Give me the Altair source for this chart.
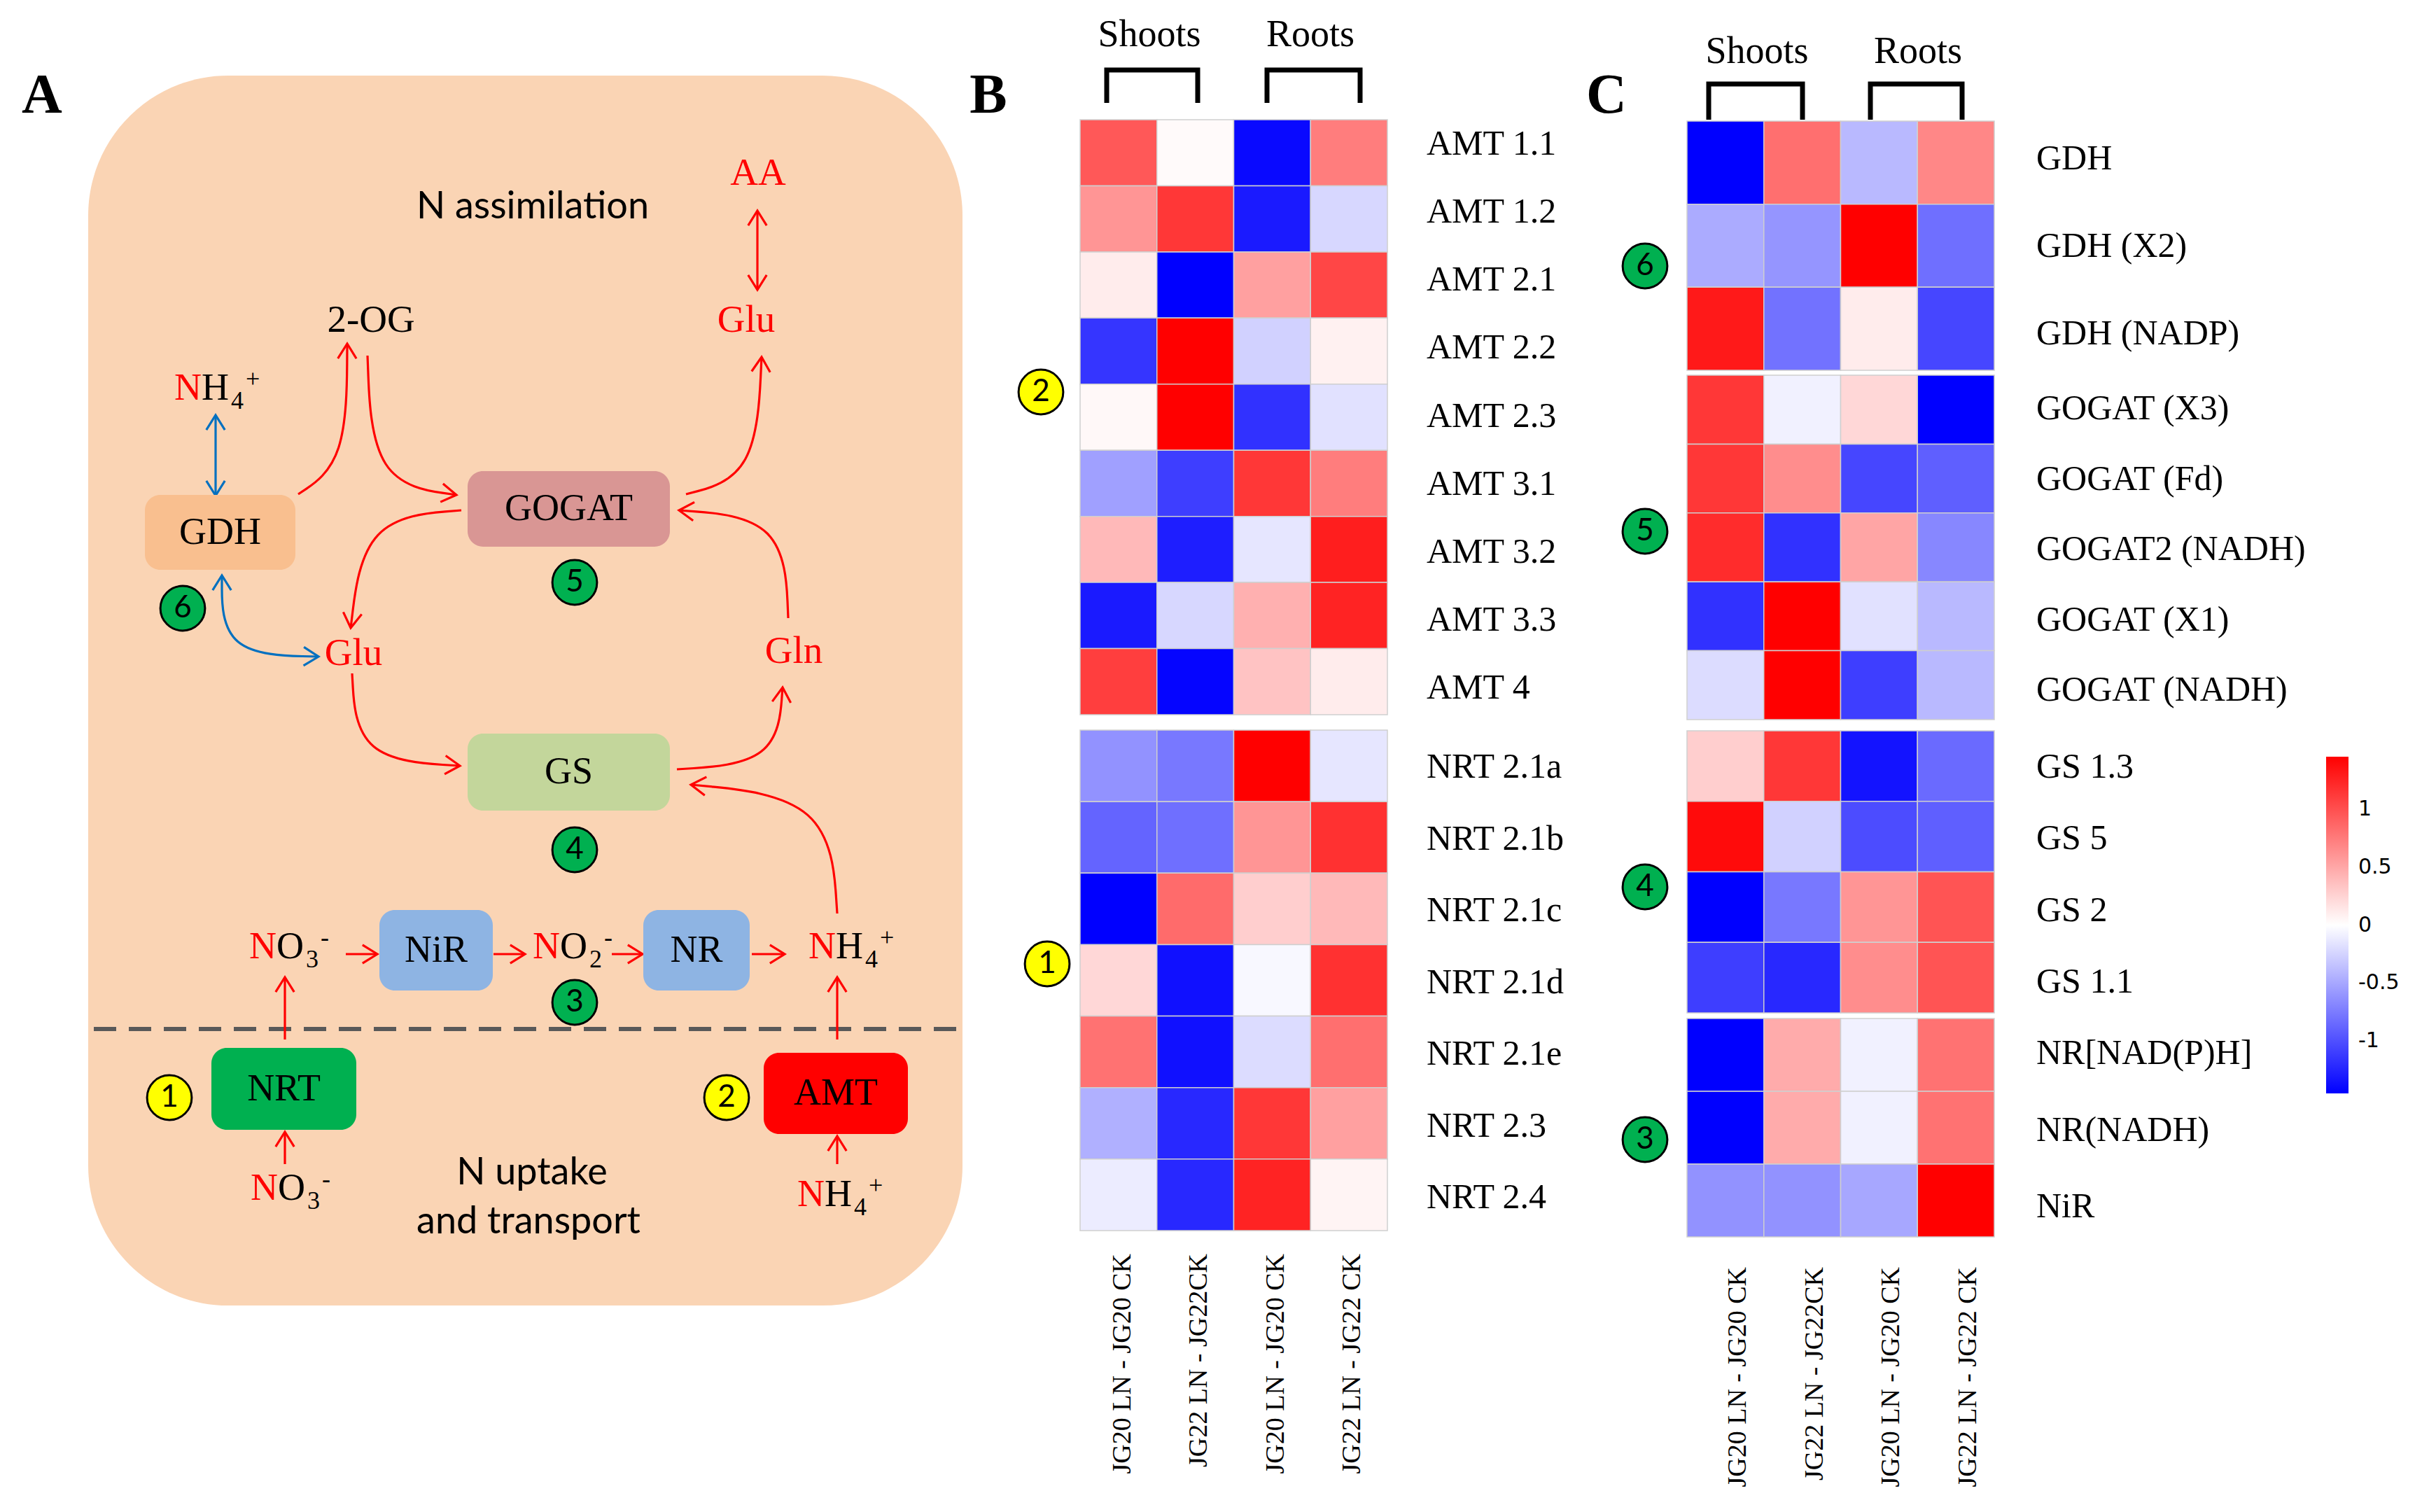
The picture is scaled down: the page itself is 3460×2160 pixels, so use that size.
import math
import altair as alt
import pandas as pd

W, H, M = 3460, 2160, 8
SERIF = "Liberation Serif"
SANS = "Lato"
LEGEND_FONT = "DejaVu Sans"

# ---------------- heatmap data (B and C) ----------------
col_ids = ["Shoots JG20", "Shoots JG22", "Roots JG20", "Roots JG22"]
col_labels = ["JG20 LN - JG20 CK", "JG22 LN - JG22CK", "JG20 LN - JG20 CK", "JG22 LN - JG22 CK"]

amt_genes = ["AMT 1.1", "AMT 1.2", "AMT 2.1", "AMT 2.2", "AMT 2.3", "AMT 3.1", "AMT 3.2", "AMT 3.3", "AMT 4"]
amt_values = [
    [0.95, 0.03, -1.40, 0.74],
    [0.60, 1.14, -1.30, -0.23],
    [0.11, -1.45, 0.54, 1.05],
    [-1.15, 1.45, -0.26, 0.08],
    [0.04, 1.45, -1.17, -0.17],
    [-0.54, -1.10, 1.14, 0.74],
    [0.40, -1.28, -0.14, 1.28],
    [-1.30, -0.23, 0.45, 1.25],
    [1.10, -1.42, 0.34, 0.11],
]
nrt_genes = ["NRT 2.1a", "NRT 2.1b", "NRT 2.1c", "NRT 2.1d", "NRT 2.1e", "NRT 2.3", "NRT 2.4"]
nrt_values = [
    [-0.62, -0.77, 1.45, -0.14],
    [-0.88, -0.82, 0.60, 1.17],
    [-1.45, 0.84, 0.28, 0.40],
    [0.23, -1.36, -0.04, 1.17],
    [0.80, -1.36, -0.20, 0.82],
    [-0.45, -1.22, 1.14, 0.54],
    [-0.11, -1.22, 1.25, 0.06],
]
gdh_genes = ["GDH", "GDH (X2)", "GDH (NADP)"]
gdh_values = [
    [-1.45, 0.82, -0.40, 0.68],
    [-0.48, -0.60, 1.45, -0.82],
    [1.31, -0.80, 0.11, -1.05],
]
gogat_genes = ["GOGAT (X3)", "GOGAT (Fd)", "GOGAT2 (NADH)", "GOGAT (X1)", "GOGAT (NADH)"]
gogat_values = [
    [1.14, -0.08, 0.23, -1.45],
    [1.14, 0.65, -1.05, -0.91],
    [1.20, -1.17, 0.51, -0.68],
    [-1.17, 1.45, -0.17, -0.40],
    [-0.20, 1.45, -1.10, -0.40],
]
gs_genes = ["GS 1.3", "GS 5", "GS 2", "GS 1.1"]
gs_values = [
    [0.28, 1.14, -1.34, -0.85],
    [1.39, -0.26, -1.02, -0.91],
    [-1.45, -0.77, 0.60, 0.97],
    [-1.10, -1.22, 0.65, 0.97],
]
nr_genes = ["NR[NAD(P)H]", "NR(NADH)", "NiR"]
nr_values = [
    [-1.45, 0.48, -0.08, 0.80],
    [-1.45, 0.48, -0.08, 0.80],
    [-0.62, -0.62, -0.50, 1.45],
]
legend_ticks = [-1, -0.5, 0, 0.5, 1]

# ---------------- panel A (pathway diagram) ----------------
box_labels = ["GDH", "GOGAT", "GS", "NiR", "NR", "NRT", "AMT"]
box_fills = ["#F9BF8F", "#D99694", "#C3D69B", "#8EB4E3", "#8EB4E3", "#00B050", "#FF0000"]
box_x0 = [207, 668, 668, 542, 919, 302, 1091]
box_x1 = [422, 957, 957, 704, 1071, 509, 1297]
box_y0 = [707, 673, 1048, 1300, 1300, 1497, 1504]
box_y1 = [814, 781, 1158, 1415, 1415, 1614, 1620]

metab_text = ["AA", "Glu", "2-OG", "Glu", "Gln"]
metab_color = ["#FF0000", "#FF0000", "#000000", "#FF0000", "#FF0000"]
metab_x = [1083, 1066, 530, 505, 1134]
metab_y = [247, 457, 457, 933, 930]

sans_text = ["N assimilation", "N uptake", "and transport"]
sans_x = [761, 760, 755]
sans_y = [296, 1676, 1746]

# chemical formulas: (main letters, subscript, superscript, left x, baseline y)
chem_main = ["NH", "NO", "NO", "NH", "NO", "NH"]
chem_sub = ["4", "3", "2", "4", "3", "4"]
chem_sup = ["+", "-", "-", "+", "-", "+"]
chem_x = [249, 356, 761, 1155, 358, 1139]
chem_y = [571, 1369, 1369, 1369, 1714, 1723]

circle_num = ["6", "5", "4", "3", "1", "2", "2", "1", "6", "5", "4", "3"]
circle_fill = ["#00B050"] * 4 + ["#FFFF00"] * 4 + ["#00B050"] * 4
circle_x = [261, 821, 821, 821, 242, 1038, 1487, 1496, 2350, 2350, 2350, 2350]
circle_y = [869, 832, 1214, 1432, 1568, 1568, 560, 1377, 380, 759, 1267, 1628]

curve_points = [
    [(1082, 301), (1082, 414)],
    [(308, 593), (308, 708)],
    [(426, 706), (495, 660), (496, 491)],
    [(525, 508), (532, 690), (652, 707)],
    [(659, 729), (520, 740), (501, 897)],
    [(980, 706), (1080, 680), (1088, 510)],
    [(1126, 883), (1120, 740), (970, 729)],
    [(503, 962), (510, 1085), (657, 1094)],
    [(967, 1099), (1110, 1090), (1118, 982)],
    [(1196, 1305), (1185, 1140), (987, 1121)],
    [(317, 822), (317, 935), (455, 938)],
    [(494, 1363), (539, 1363)],
    [(705, 1363), (750, 1363)],
    [(874, 1363), (918, 1363)],
    [(1074, 1363), (1121, 1363)],
    [(407, 1485), (407, 1396)],
    [(407, 1663), (407, 1617)],
    [(1196, 1485), (1196, 1396)],
    [(1196, 1663), (1196, 1623)],
]
curve_colors = ["#FF0000", "#0070C0"] + ["#FF0000"] * 8 + ["#0070C0"] + ["#FF0000"] * 8
curve_heads = ["both", "both"] + ["end"] * 8 + ["both"] + ["end"] * 8

bracket_points = [
    [(1581, 147), (1581, 100), (1711, 100), (1711, 147)],
    [(1810, 147), (1810, 100), (1943, 100), (1943, 147)],
    [(2441, 171), (2441, 120), (2575, 120), (2575, 171)],
    [(2672, 171), (2672, 120), (2803, 120), (2803, 171)],
]
header_text = ["Shoots", "Roots", "Shoots", "Roots"]
header_x = [1642, 1872, 2510, 2740]
header_y = [50, 50, 74, 74]

panel_text = ["A", "B", "C"]
panel_x = [60, 1412, 2295]
panel_y = [137, 137, 137]

# ---------------- scales ----------------
px = alt.Scale(domain=[M, W - M], nice=False, zero=False)
py = alt.Scale(domain=[H - M, M], nice=False, zero=False)


def pos(xf="x", yf="y"):
    return dict(x=alt.X(f"{xf}:Q", scale=px, axis=None), y=alt.Y(f"{yf}:Q", scale=py, axis=None))


# background cell
bg = alt.Chart(pd.DataFrame({"x": [126], "x2": [1375], "y": [108], "y2": [1865]})).mark_rect(
    cornerRadius=200, color="#FAD4B4").encode(x2="x2:Q", y2="y2:Q", **pos())

dash = alt.Chart(pd.DataFrame({"x": [134], "x2": [1368], "y": [1470]})).mark_rule(
    strokeDash=[32, 18], strokeWidth=6, color="#595959").encode(x2="x2:Q", **pos())

line_rows, head_rows = [], []
for i, (pts, col, hd) in enumerate(zip(curve_points, curve_colors, curve_heads)):
    for j, (x, y) in enumerate(pts):
        line_rows.append(dict(id=i, ord=j, x=x, y=y, color=col))
    a, b = pts[-2], pts[-1]
    ang = (math.degrees(math.atan2(b[1] - a[1], b[0] - a[0])) + 360) % 360
    head_rows.append(dict(x=b[0], y=b[1], angle=ang, color=col))
    if hd == "both":
        a, b = pts[1], pts[0]
        ang = (math.degrees(math.atan2(b[1] - a[1], b[0] - a[0])) + 360) % 360
        head_rows.append(dict(x=b[0], y=b[1], angle=ang, color=col))

line_df = pd.DataFrame(line_rows)
curve_layers = []
for col in ["#FF0000", "#0070C0"]:
    curve_layers.append(
        alt.Chart(line_df[line_df["color"] == col]).mark_line(
            interpolate="basis", strokeWidth=3.2, color=col).encode(
            detail="id:N", order="ord:Q", **pos()))

heads = alt.Chart(pd.DataFrame(head_rows)).mark_point(
    shape="M-1.6,-1L0,0L-1.6,1", filled=False, size=700, strokeWidth=3.2, opacity=1).encode(
    angle=alt.Angle("angle:Q", scale=None), color=alt.Color("color:N", scale=None), **pos())

box_df = pd.DataFrame({"label": box_labels, "fill": box_fills, "x": box_x0, "x2": box_x1,
                       "y": box_y0, "y2": box_y1})
box_df["cx"] = (box_df["x"] + box_df["x2"]) / 2
box_df["cy"] = (box_df["y"] + box_df["y2"]) / 2
boxes = alt.Chart(box_df).mark_rect(cornerRadius=22).encode(
    x2="x2:Q", y2="y2:Q", fill=alt.Fill("fill:N", scale=None), **pos())
box_txt = alt.Chart(box_df).mark_text(font=SERIF, fontSize=54, baseline="middle", align="center",
                                      color="black").encode(text="label:N", **pos("cx", "cy"))

metab = alt.Chart(pd.DataFrame({"t": metab_text, "c": metab_color, "x": metab_x, "y": metab_y})).mark_text(
    font=SERIF, fontSize=55, baseline="middle", align="center").encode(
    text="t:N", color=alt.Color("c:N", scale=None), **pos())

sans = alt.Chart(pd.DataFrame({"t": sans_text, "x": sans_x, "y": sans_y})).mark_text(
    font=SANS, fontSize=54, baseline="middle", align="center", color="black").encode(text="t:N", **pos())

chem_rows = []
for mn, sb, sp, x, y in zip(chem_main, chem_sub, chem_sup, chem_x, chem_y):
    chem_rows.append(dict(t=mn[0], c="#FF0000", s=54, x=x, y=y))
    chem_rows.append(dict(t=mn[1], c="#000000", s=54, x=x + 39, y=y))
    chem_rows.append(dict(t=sb, c="#000000", s=36, x=x + 81, y=y + 13))
    chem_rows.append(dict(t=sp, c="#000000", s=36, x=x + 102, y=y - 18))
chem = alt.Chart(pd.DataFrame(chem_rows)).mark_text(font=SERIF, baseline="alphabetic", align="left").encode(
    text="t:N", color=alt.Color("c:N", scale=None), size=alt.Size("s:Q", scale=None), **pos())

circ_df = pd.DataFrame({"n": circle_num, "f": circle_fill, "x": circle_x, "y": circle_y})
circles = alt.Chart(circ_df).mark_point(shape="circle", filled=True, size=4072, stroke="black",
                                        strokeWidth=3, opacity=1).encode(
    fill=alt.Fill("f:N", scale=None), **pos())
circ_txt = alt.Chart(circ_df).mark_text(font=SANS, fontSize=44, baseline="middle", align="center",
                                        color="black").encode(text="n:N", **pos())

br_rows = []
for i, pts in enumerate(bracket_points):
    for j, (x, y) in enumerate(pts):
        br_rows.append(dict(id=i, ord=j, x=x, y=y))
brackets = alt.Chart(pd.DataFrame(br_rows)).mark_line(strokeWidth=7, color="black", strokeJoin="miter").encode(
    detail="id:N", order="ord:Q", **pos())
headers = alt.Chart(pd.DataFrame({"t": header_text, "x": header_x, "y": header_y})).mark_text(
    font=SERIF, fontSize=54, baseline="middle", align="center", color="black").encode(text="t:N", **pos())
panels = alt.Chart(pd.DataFrame({"t": panel_text, "x": panel_x, "y": panel_y})).mark_text(
    font=SERIF, fontSize=80, fontWeight="bold", baseline="middle", align="center", color="black").encode(
    text="t:N", **pos())

diagram = alt.layer(bg, dash, *curve_layers, heads, boxes, box_txt, metab, sans, chem, circles, circ_txt,
                    brackets, headers, panels)

# ---------------- heatmaps ----------------
color_scale = alt.Scale(domain=[-1.45, 0, 1.45], range=["#0000FF", "#FFFFFF", "#FF0000"], interpolate="rgb")
legend = alt.Legend(orient="none", legendX=3323 - M, legendY=1081 - M, direction="vertical",
                    gradientLength=481, gradientThickness=32, title=None, labelFont=LEGEND_FONT,
                    labelFontSize=30, labelColor="black", labelOffset=14, values=legend_ticks,
                    labelOverlap=False, gradientStrokeWidth=0,
                    labelExpr="datum.value < 0 ? '-' + format(-datum.value, '') : format(datum.value, '')")


def heat(genes, values, x0, x1, y0, y1):
    rows = []
    for g, vals in zip(genes, values):
        for c, v in zip(col_ids, vals):
            rows.append(dict(gene=g, col=c, value=v))
    return alt.Chart(pd.DataFrame(rows)).mark_rect(stroke="#cfcfcf", strokeWidth=1.5).encode(
        x=alt.X("col:N", scale=alt.Scale(domain=col_ids, range=[x0 - M, x1 - M], paddingInner=0,
                                         paddingOuter=0), axis=None),
        y=alt.Y("gene:N", scale=alt.Scale(domain=genes, range=[y0 - M, y1 - M], paddingInner=0,
                                          paddingOuter=0), axis=None),
        color=alt.Color("value:Q", scale=color_scale, legend=legend))


def row_labels(genes, lx, c0, c1):
    return alt.Chart(pd.DataFrame({"gene": genes})).mark_text(
        font=SERIF, fontSize=50, align="left", baseline="middle", color="black").encode(
        y=alt.Y("gene:N", scale=alt.Scale(type="point", domain=genes, range=[c0 - M, c1 - M], padding=0),
                axis=None),
        x=alt.value(lx - M), text="gene:N")


def col_text(cx0, cx1, top):
    return alt.Chart(pd.DataFrame({"col": col_ids, "label": col_labels})).mark_text(
        font=SERIF, fontSize=38, angle=270, align="right", baseline="middle", color="black").encode(
        x=alt.X("col:N", scale=alt.Scale(type="point", domain=col_ids, range=[cx0 - M, cx1 - M], padding=0),
                axis=None),
        y=alt.value(top - M), text="label:N")


heat_layers = [
    heat(amt_genes, amt_values, 1543, 1982, 171, 1021),
    heat(nrt_genes, nrt_values, 1543, 1982, 1043, 1758),
    heat(gdh_genes, gdh_values, 2410, 2849, 173, 529),
    heat(gogat_genes, gogat_values, 2410, 2849, 536, 1028),
    heat(gs_genes, gs_values, 2410, 2849, 1044, 1447),
    heat(nr_genes, nr_values, 2410, 2849, 1455, 1767),
    row_labels(amt_genes, 2038, 206, 983),
    row_labels(nrt_genes, 2038, 1096, 1711),
    row_labels(gdh_genes, 2909, 227, 477),
    row_labels(gogat_genes, 2909, 584, 986),
    row_labels(gs_genes, 2909, 1096, 1403),
    row_labels(nr_genes, 2909, 1505, 1724),
    col_text(1604, 1932, 1791),
    col_text(2483, 2812, 1810),
]

chart = alt.layer(diagram, *heat_layers).resolve_scale(x="independent", y="independent").properties(
    width=W - 2 * M, height=H - 2 * M, autosize=alt.AutoSizeParams(type="none"), padding=0,
    background="white").configure_view(stroke=None)

chart.save("out.html", embed_options={"renderer": "svg", "actions": False})
